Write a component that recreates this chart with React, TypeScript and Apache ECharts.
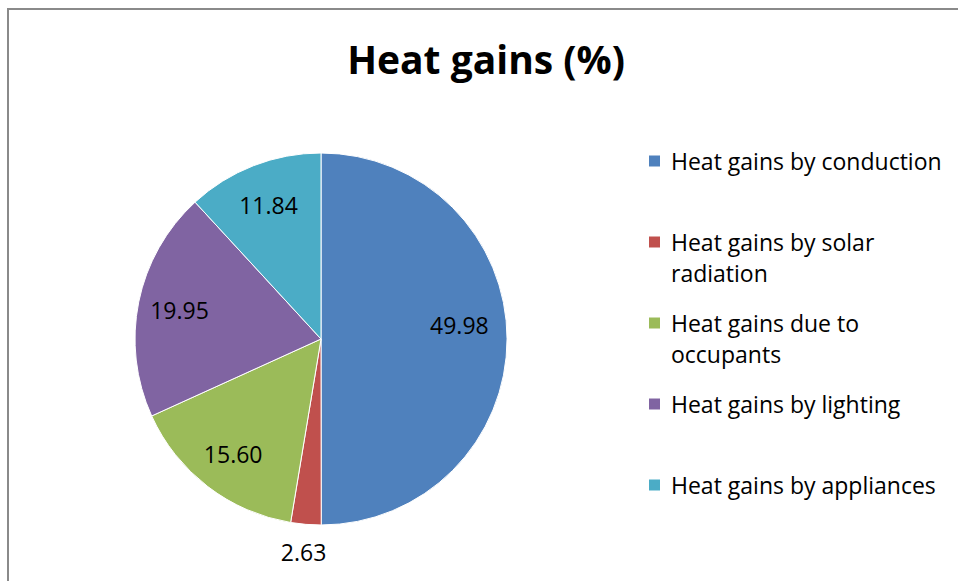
import React, { useEffect, useRef } from "react";
import * as echarts from "echarts";

const titleText = "Heat gains (%)";
const categories = [
  "Heat gains by conduction",
  "Heat gains by solar radiation",
  "Heat gains due to occupants",
  "Heat gains by lighting",
  "Heat gains by appliances",
];
const legendLabels = [
  "Heat gains by conduction",
  "Heat gains by solar\nradiation",
  "Heat gains due to\noccupants",
  "Heat gains by lighting",
  "Heat gains by appliances",
];
const values = [49.98, 2.63, 15.6, 19.95, 11.84];
const colors = ["#4F81BD", "#C0504D", "#9BBB59", "#8064A2", "#4BACC6"];
// which slices carry their label outside the pie
const outsideLabel = [false, true, false, false, false];

const FONT = "'Open Sans', 'Noto Sans', sans-serif";

export default function App() {
  const ref = useRef<HTMLDivElement>(null);

  useEffect(() => {
    if (!ref.current) return;
    const chart = echarts.init(ref.current, null, { renderer: "svg" });

    const cx = 321;
    const cy = 339;
    const R = 186;
    const legendLine = 31;
    const legendFirstY = 161;
    const legendStep = 81;

    const fmt = (p: any) => Number(p.value).toFixed(2);

    const legends = categories.map((name, i) => {
      const lines = legendLabels[i].split("\n").length;
      // blank lines on top keep the first text line level with the icon
      const text = "\n".repeat(lines - 1) + legendLabels[i];
      const boxH = (2 * lines - 1) * legendLine;
      return {
        orient: "vertical",
        left: 647,
        top: legendFirstY + i * legendStep - boxH / 2,
        padding: 0,
        itemWidth: 13,
        itemHeight: 13,
        itemGap: 0,
        icon: "rect",
        selectedMode: false,
        data: [{ name, itemStyle: { color: colors[i] } }],
        formatter: () => text,
        textStyle: {
          fontFamily: FONT,
          fontSize: 23,
          color: "#000",
          lineHeight: legendLine,
          padding: [0, 0, 0, 5],
        },
      };
    });

    const labelStyle = {
      show: true,
      position: "inside",
      formatter: fmt,
      fontFamily: FONT,
      fontSize: 23,
      color: "#000",
    };

    const option: any = {
      animation: false,
      backgroundColor: "#fff",
      title: {
        text: titleText,
        left: 481,
        textAlign: "center",
        top: 34,
        textStyle: {
          fontFamily: FONT,
          fontSize: 39,
          fontWeight: "bold",
          color: "#000",
        },
      },
      legend: legends,
      graphic: [
        {
          type: "rect",
          shape: { x: 8, y: 9, width: 1000, height: 1000 },
          style: { fill: "none", stroke: "#8a8a8a", lineWidth: 2 },
          silent: true,
          z: 100,
        },
      ],
      series: [
        {
          type: "pie",
          center: [cx, cy],
          radius: [0, R],
          startAngle: 90,
          clockwise: true,
          silent: true,
          label: { show: false },
          labelLine: { show: false },
          itemStyle: { borderColor: "#fff", borderWidth: 1 },
          emphasis: { disabled: true },
          data: categories.map((name, i) => ({
            name,
            value: values[i],
            itemStyle: { color: colors[i] },
          })),
        },
        {
          type: "pie",
          center: [cx, cy],
          radius: [R * 0.52, R],
          startAngle: 90,
          clockwise: true,
          silent: true,
          legendHoverLink: false,
          itemStyle: { color: "rgba(0,0,0,0)", borderWidth: 0 },
          labelLine: { show: false },
          emphasis: { disabled: true },
          label: labelStyle,
          data: categories.map((name, i) => ({
            name,
            value: values[i],
            label:
              i === 0
                ? { show: !outsideLabel[i], offset: [-6, -14] }
                : { show: !outsideLabel[i] },
          })),
        },
        {
          type: "pie",
          center: [cx, cy],
          radius: [R, R * 1.27],
          startAngle: 90,
          clockwise: true,
          silent: true,
          legendHoverLink: false,
          itemStyle: { color: "rgba(0,0,0,0)", borderWidth: 0 },
          labelLine: { show: false },
          emphasis: { disabled: true },
          label: labelStyle,
          data: categories.map((name, i) => ({
            name,
            value: values[i],
            label: { show: outsideLabel[i] },
          })),
        },
      ],
    };

    chart.setOption(option);
    return () => chart.dispose();
  }, []);

  return (
    <div
      ref={ref}
      style={{ position: "fixed", left: 0, top: 0, width: 958, height: 581 }}
    />
  );
}
